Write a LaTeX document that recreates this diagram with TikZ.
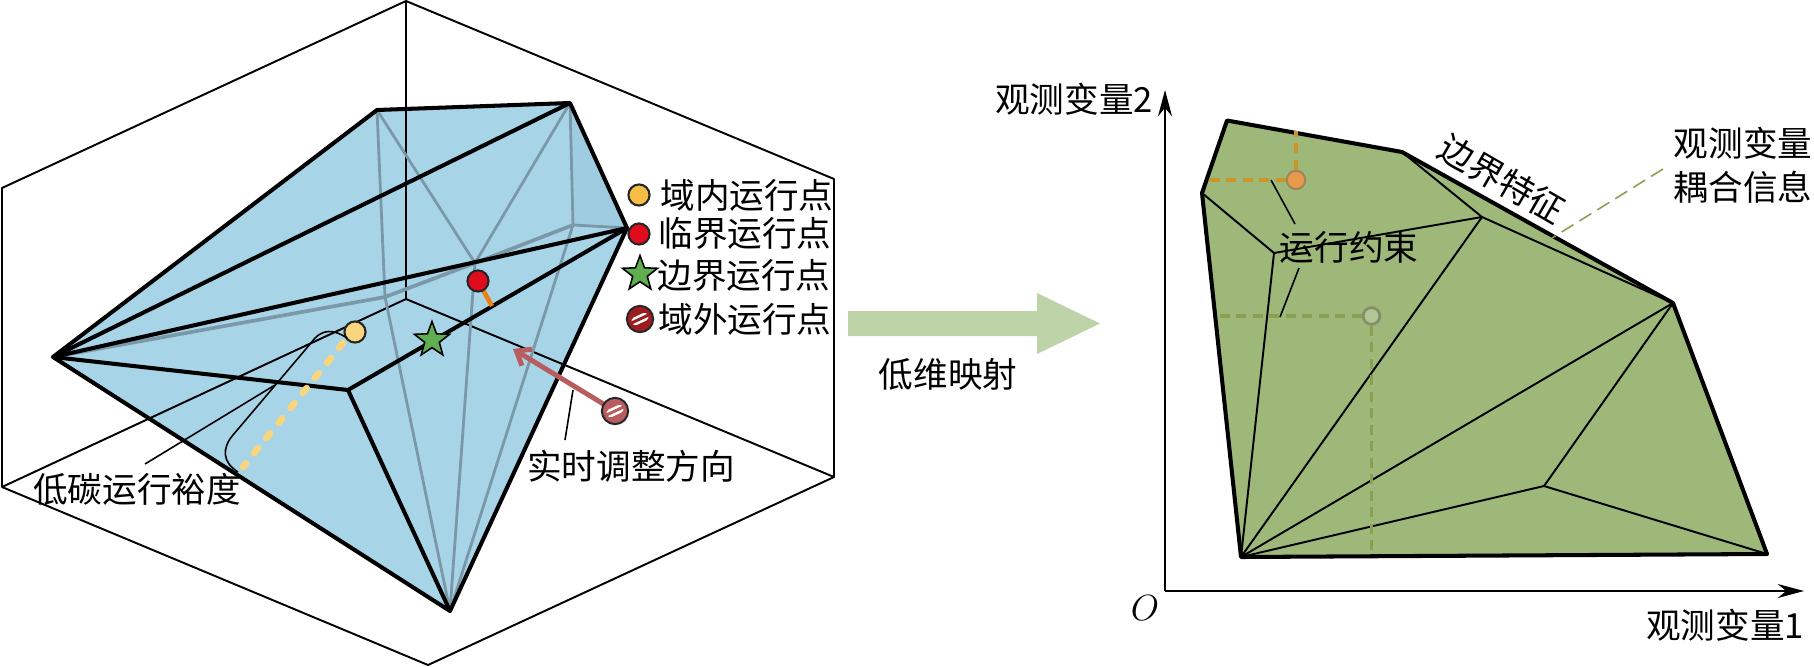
\documentclass[tikz,border=0pt]{standalone}
\usepackage{fontspec}
\setmainfont{Liberation Serif}
\newfontfamily\cjk{Noto Sans CJK SC}
\usetikzlibrary{arrows.meta,shapes.geometric}
\definecolor{boxblue}{HTML}{A8D4E7}
\definecolor{boxshade}{HTML}{9FCCE0}
\definecolor{hidgray}{HTML}{7B98A8}
\definecolor{regiongreen}{HTML}{9DB879}
\definecolor{maparrow}{HTML}{BFD3A9}
\definecolor{innery}{HTML}{F6BE45}
\definecolor{innerfade}{HTML}{F9D57E}
\definecolor{critred}{HTML}{E00B1C}
\definecolor{starg}{HTML}{5FAE50}
\definecolor{outred}{HTML}{9E1B20}
\definecolor{outfade}{HTML}{B85C5F}
\definecolor{olive}{HTML}{8AA050}
\definecolor{ochre}{HTML}{C9962A}
\tikzset{
    lbl/.style={font=\cjk\fontsize{19.7}{25}\selectfont, inner sep=0pt, align=center},
    thinline/.style={line width=1.1pt},
    edge/.style={line width=2.3pt, line join=round},
    hidden/.style={hidgray, line width=1.6pt, line join=round},
    inner/.style={line width=1.1pt},
    leader/.style={line width=.9pt},
    dot/.style={circle, draw=black!85, fill=#1, line width=1.2pt, minimum size=12pt, inner sep=0pt},
    starpt/.style={star, star points=5, star point ratio=2.4, draw=black, fill=starg,
        line width=.9pt, minimum size=21pt, inner sep=0pt},
    outpt/.style={circle, fill=#1, draw=black!85, line width=1.1pt, minimum size=15pt, inner sep=0pt,
        path picture={
            \draw[white, line width=4.6pt, line cap=round] (-2.6pt,-1.2pt) -- (2.6pt,1.2pt);
            \draw[#1, line width=1.7pt] (-6pt,-2.8pt) -- (6pt,2.8pt);
        }},
    dashline/.style={#1, line width=2.1pt, dash pattern=on 5.7pt off 3.7pt},
}
\begin{document}
\begin{tikzpicture}[x=0.02cm, y=-0.02cm, >=stealth]
    \useasboundingbox (0,0) rectangle (1814,666);

    % Corners of the box
    \coordinate (T) at (406,1);
    \coordinate (RU) at (834,179);
    \coordinate (RL) at (834,477);
    \coordinate (Bt) at (428,665);
    \coordinate (LL) at (2,487);
    \coordinate (LU) at (2,188);
    \coordinate (Cn) at (406,299);

    % Vertices of the solid
    \coordinate (A) at (53,357);
    \coordinate (B) at (377,110);
    \coordinate (C) at (570,103);
    \coordinate (D) at (627,228);
    \coordinate (E) at (450,611);
    \coordinate (F) at (348,390);
    \coordinate (G) at (573,225);
    \coordinate (H) at (385,297);
    \coordinate (J) at (475,263);

    \fill[boxblue] (A) -- (B) -- (C) -- (D) -- (E) -- cycle;
    \fill[boxshade] (C) -- (D) -- (G) -- cycle;

    % Box outline and its three inner edges
    \draw[thinline, line join=round] (T) -- (RU) -- (RL) -- (Bt) -- (LL) -- (LU) -- cycle;
    \draw[thinline] (Cn) -- (T);
    \draw[thinline] (Cn) -- (RL);
    \draw[thinline] (Cn) -- (LL);

    % Back edges
    \draw[hidden, line width=2.1pt] (A) -- (H) -- (J) -- (G);
    \draw[hidden] (G) -- (D);
    \draw[hidden] (B) -- (H) -- (E);
    \draw[hidden] (B) -- (J) -- (E);
    \draw[hidden] (C) -- (J);
    \draw[hidden] (C) -- (G) -- (E);

    % Front edges
    \draw[edge] (A) -- (B) -- (C) -- (D) -- (E) -- cycle;
    \draw[edge] (A) -- (C);
    \draw[edge] (A) -- (D);
    \draw[edge] (A) -- (F) -- (D);
    \draw[edge] (F) -- (E);

    % Margin of the inner point
    \node[dot=innerfade] (yp) at (355,332) {};
    \coordinate (ys) at (343,343);
    \coordinate (ye) at (243,467);
    \draw[innerfade, line width=3.8pt, line cap=round, dash pattern=on 3.5pt off 7.5pt] (ys) -- (ye);
    \coordinate (ms) at (347,338);
    \coordinate (mb) at (238,472);
    \draw[leader] (ms) .. controls (335,330) and (322,327) .. (311,343)
        -- (233,435) .. controls (222,448) and (222,462) .. (mb);
    \coordinate (ml) at (145,464);
    \coordinate (mt) at (275,385);
    \draw[leader] (ml) -- (mt);
    \node[lbl] (margin) at (137,489) {低碳运行裕度};

    % Critical point and the star on the edge
    \coordinate (rf) at (492,306);
    \draw[orange!70!brown, line width=2.6pt] (478,281) -- (rf);
    \node[dot=critred] (rp) at (478,281) {};
    \node[starpt] (sp) at (432,340) {};

    % Adjustment arrow from the outside point
    \coordinate (oe) at (513,349);
    \draw[-{Straight Barb[length=7pt,width=11pt]}, outfade, line width=2.8pt] (615,411) -- (oe);
    \node[outpt=outfade] (op) at (615,411) {};
    \coordinate (al) at (565,440);
    \coordinate (at) at (573,390);
    \draw[leader] (al) -- (at);
    \node[lbl] (adjust) at (631,466) {实时调整方向};

    % Legend
    \node[dot=innery] (lg1) at (639,195) {};
    \node[dot=critred] (lg2) at (639,234) {};
    \node[starpt] (lg3) at (640,274) {};
    \node[outpt=outred] (lg4) at (640,319) {};
    \node[lbl] (tx1) at (747,195) {域内运行点};
    \node[lbl] (tx2) at (745,233) {临界运行点};
    \node[lbl] (tx3) at (744,275) {边界运行点};
    \node[lbl] (tx4) at (745,319) {域外运行点};

    % Mapping arrow
    \fill[maparrow] (848,311) -- (1037,311) -- (1037,293) -- (1100,323.5)
        -- (1037,354) -- (1037,336) -- (848,336) -- cycle;
    \node[lbl] (map) at (948,374) {低维映射};

    % Axes
    \coordinate (O) at (1165,591);
    \coordinate (Xe) at (1804,591);
    \coordinate (Ye) at (1165,90);
    \draw[->, thinline, >={Stealth[length=15pt,width=8pt]}] (O) -- (Xe);
    \draw[->, thinline, >={Stealth[length=15pt,width=8pt]}] (O) -- (Ye);
    \node[font=\itshape\fontsize{19.7}{24}\selectfont, inner sep=0pt] (ol) at (1145,608) {$O$};
    \node[lbl] (ylab) at (1074,99) {观测变量2};
    \node[lbl] (xlab) at (1725,625) {观测变量1};

    % Projected region
    \coordinate (P1) at (1227,120.5);
    \coordinate (P2) at (1402,152);
    \coordinate (P3) at (1673,303);
    \coordinate (P4) at (1767,554);
    \coordinate (P5) at (1241,557);
    \coordinate (P6) at (1202,193);
    \coordinate (Q) at (1274,253);
    \coordinate (R) at (1482,217);
    \coordinate (S) at (1544,486);

    \fill[regiongreen] (P1) -- (P2) -- (P3) -- (P4) -- (P5) -- (P6) -- cycle;
    \draw[inner] (P6) -- (Q) -- (P5);
    \draw[inner] (Q) -- (R) -- (P2);
    \draw[inner] (R) -- (P3) -- (P5);
    \draw[inner] (R) -- (P5);
    \draw[inner] (P3) -- (S) -- (P5);
    \draw[inner] (S) -- (P4);
    \draw[edge] (P1) -- (P2) -- (P3) -- (P4) -- (P5) -- (P6) -- cycle;

    % Projections of the two points
    \coordinate (pal) at (1206,180);
    \coordinate (pat) at (1296,131);
    \node[circle, fill=orange!55!brown!80!white, draw=gray!60!ochre, line width=1.2pt,
        minimum size=10.5pt, inner sep=0pt] (pa) at (1296,180) {};
    \draw[dashline=ochre] (pa) -- (pal);
    \draw[dashline=ochre] (pa) -- (pat);

    \coordinate (pbl) at (1214,316);
    \coordinate (pbb) at (1371.5,552);
    \node[circle, fill=regiongreen!80!white, draw=gray!60!olive, line width=1.5pt,
        minimum size=9.5pt, inner sep=0pt] (pb) at (1371.5,316) {};
    \draw[dashline=olive] (pb) -- (pbl);
    \draw[dashline=olive] (pb) -- (pbb);

    % Texts on the region
    \coordinate (ca) at (1271,180);
    \coordinate (cb) at (1295,224);
    \coordinate (cc) at (1299,268);
    \coordinate (cd) at (1280,317);
    \draw[leader] (ca) -- (cb);
    \draw[leader] (cc) -- (cd);
    \node[lbl] (cons) at (1349,247) {运行约束};
    \node[lbl, rotate=-30] (bnd) at (1502,179) {边界特征};
    \coordinate (ka) at (1663,169);
    \coordinate (kb) at (1552,238);
    \draw[olive, line width=.9pt, dash pattern=on 8pt off 4pt] (ka) -- (kb);
    \node[lbl] (cpl) at (1743,165) {观测变量\\耦合信息};
\end{tikzpicture}
\end{document}
